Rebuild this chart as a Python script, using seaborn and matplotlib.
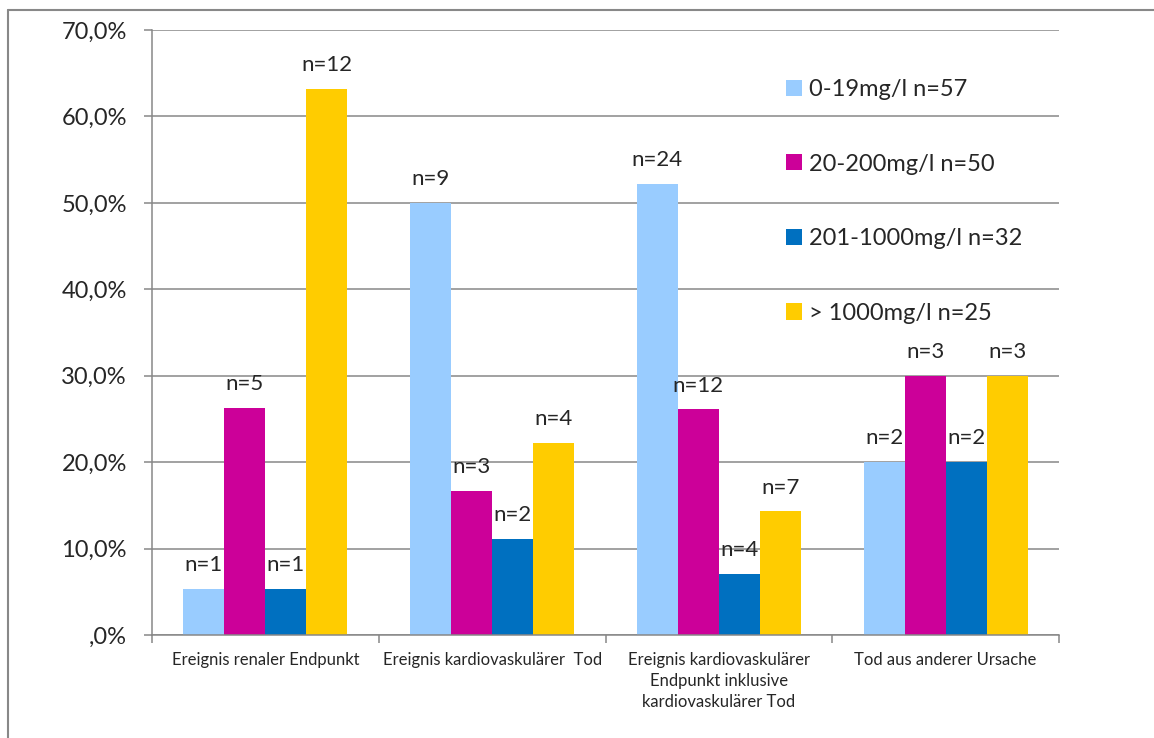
import matplotlib
matplotlib.use("Agg")
import matplotlib.pyplot as plt
from matplotlib.lines import Line2D
import seaborn as sns
import pandas as pd

# Endpoints (x categories)
categories = [
    "Ereignis renaler Endpunkt",
    "Ereignis kardiovaskulärer  Tod",
    "Ereignis kardiovaskulärer\nEndpunkt inklusive\nkardiovaskulärer Tod",
    "Tod aus anderer Ursache",
]

# Proteinuria groups (legend)
groups = ["0-19mg/l n=57", "20-200mg/l n=50", "201-1000mg/l n=32", "> 1000mg/l n=25"]

# Share of patients with the event, in percent, per group
pct_0_19 = [5.3, 50.0, 52.2, 20.0]
pct_20_200 = [26.3, 16.7, 26.1, 30.0]
pct_201_1000 = [5.3, 11.1, 7.1, 20.0]
pct_over_1000 = [63.2, 22.2, 14.3, 30.0]

# Event counts written above the bars
n_0_19 = [1, 9, 24, 2]
n_20_200 = [5, 3, 12, 3]
n_201_1000 = [1, 2, 4, 2]
n_over_1000 = [12, 4, 7, 3]

y_ticks = [0, 10, 20, 30, 40, 50, 60, 70]
y_tick_labels = [",0%", "10,0%", "20,0%", "30,0%", "40,0%", "50,0%", "60,0%", "70,0%"]

colors = ["#99CCFF", "#CC0099", "#0070C0", "#FFCC00"]

pct_series = [pct_0_19, pct_20_200, pct_201_1000, pct_over_1000]
n_series = [n_0_19, n_20_200, n_201_1000, n_over_1000]

df = pd.DataFrame(
    [
        {"Endpunkt": c, "Gruppe": g, "Anteil": v}
        for g, vals in zip(groups, pct_series)
        for c, v in zip(categories, vals)
    ]
)

sns.set_style("white")
plt.rcParams["font.family"] = ["Lato", "DejaVu Sans"]

W, H = 1154, 738
fig = plt.figure(figsize=(W / 100, H / 100), dpi=100)
ax = fig.add_axes([152 / W, 1 - 635 / H, (1059 - 152) / W, (635 - 30) / H])

sns.barplot(
    data=df, x="Endpunkt", y="Anteil", hue="Gruppe",
    order=categories, hue_order=groups, palette=colors,
    width=0.723, saturation=1, ax=ax, errorbar=None, linewidth=0,
)

grid_c = "#878787"
ax.set_ylim(0, 70)
ax.set_xlim(-0.5, len(categories) - 0.5)
ax.set_yticks(y_ticks)
ax.set_yticklabels(y_tick_labels, fontsize=17)
ax.yaxis.grid(True, color=grid_c, linewidth=1.1)
ax.set_axisbelow(True)
ax.tick_params(axis="y", length=6, width=1.1, color=grid_c, pad=12, left=True)

# category labels without tick marks, boundary ticks between groups
ax.set_xticks(range(len(categories)))
ax.set_xticklabels(categories, fontsize=12, linespacing=1.4, va="top")
ax.tick_params(axis="x", which="major", length=0, pad=12)
ax.set_xticks([i - 0.5 for i in range(len(categories) + 1)], minor=True)
ax.tick_params(axis="x", which="minor", length=6, width=1.1, color=grid_c, bottom=True)

ax.set_xlabel("")
ax.set_ylabel("")
for s in ["top", "right"]:
    ax.spines[s].set_visible(False)
for s in ["left", "bottom"]:
    ax.spines[s].set_color(grid_c)
    ax.spines[s].set_linewidth(1.1)

for cont, ns in zip(ax.containers, n_series):
    ax.bar_label(cont, labels=[f"n={n}" for n in ns], fontsize=16, padding=10)

handles, labels = ax.get_legend_handles_labels()
ax.legend(
    handles, labels, loc="upper left", bbox_to_anchor=(786 / W, 1 - 79 / H),
    bbox_transform=fig.transFigure, frameon=False, fontsize=17,
    labelspacing=2.27, handlelength=0.68, handleheight=0.68, handletextpad=0.3,
    borderpad=0, borderaxespad=0,
)

# outer chart frame (top and left edges)
fig.add_artist(Line2D([7.5 / W, 1], [1 - 9.5 / H, 1 - 9.5 / H], color="#888888", linewidth=1.5,
                      transform=fig.transFigure))
fig.add_artist(Line2D([7.5 / W, 7.5 / W], [0, 1 - 9.5 / H], color="#888888", linewidth=1.5,
                      transform=fig.transFigure))

fig.savefig("out.png", dpi=100, facecolor="white")
